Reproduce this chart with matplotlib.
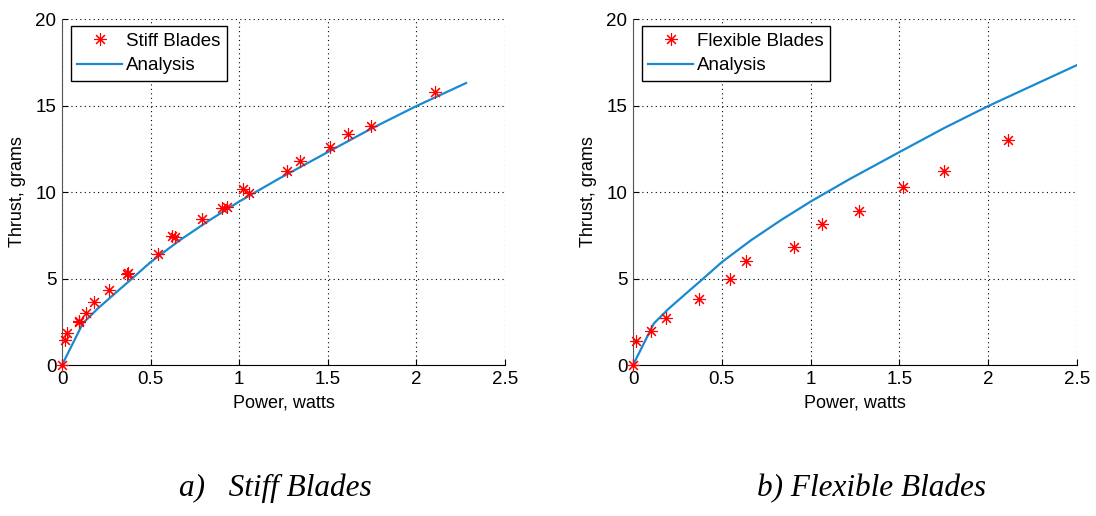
import matplotlib
matplotlib.use('Agg')
import matplotlib.pyplot as plt

# measured points, stiff blades (power in watts, thrust in grams)
stiff_power = [0.0, 0.015, 0.026, 0.094, 0.098, 0.135, 0.182, 0.263, 0.367, 0.37,
               0.54, 0.618, 0.637, 0.79, 0.904, 0.929, 1.023, 1.056, 1.267, 1.342,
               1.511, 1.611, 1.742, 2.103]
stiff_thrust = [0.0, 1.46, 1.85, 2.46, 2.52, 3.0, 3.62, 4.31, 5.27, 5.31,
                6.43, 7.47, 7.39, 8.43, 9.07, 9.16, 10.16, 9.97, 11.22, 11.82,
                12.59, 13.34, 13.82, 15.80]

# measured points, flexible blades
flex_power = [0.0, 0.019, 0.101, 0.188, 0.37, 0.544, 0.638, 0.907, 1.062, 1.27,
              1.52, 1.75, 2.109]
flex_thrust = [0.0, 1.37, 1.98, 2.71, 3.83, 4.99, 6.03, 6.83, 8.18, 8.89,
               10.29, 11.19, 13.02]

# analysis curve
ana_power = [0.0, 0.117, 0.2, 0.3, 0.39, 0.5, 0.664, 0.832, 1.0, 1.22, 1.5,
             1.75, 2.0, 2.28, 2.5]
ana_thrust = [0.0, 2.40, 3.25, 4.15, 4.95, 5.95, 7.21, 8.37, 9.45, 10.75, 12.31,
              13.69, 14.97, 16.3, 17.34]

captions = ['a)   Stiff Blades', 'b) Flexible Blades']

blue = '#1a8ad0'
star = (8, 2, 0)

fig = plt.figure(figsize=(10.96, 5.16), dpi=100)
plt.rcParams['font.family'] = ['Liberation Sans', 'DejaVu Sans']

ax1 = fig.add_axes([0.0566, 0.2926, 0.4042, 0.6705])
ax2 = fig.add_axes([0.5776, 0.2926, 0.4051, 0.6705])

ax1.plot(stiff_power, stiff_thrust, linestyle='none', marker=star, ms=9, mew=0.8,
         color='red', label='Stiff Blades', clip_on=False, zorder=3)
n = ana_power.index(2.28) + 1
ax1.plot(ana_power[:n], ana_thrust[:n], color=blue, lw=1.6, label='Analysis', zorder=2)

ax2.plot(flex_power, flex_thrust, linestyle='none', marker=star, ms=9, mew=0.8,
         color='red', label='Flexible Blades', clip_on=False, zorder=3)
ax2.plot(ana_power, ana_thrust, color=blue, lw=1.6, label='Analysis', zorder=2)

for ax in (ax1, ax2):
    ax.set_xlim(0, 2.5)
    ax.set_ylim(0, 20)
    ax.set_xticks([0, 0.5, 1, 1.5, 2, 2.5])
    ax.set_xticklabels(['0', '0.5', '1', '1.5', '2', '2.5'])
    ax.set_yticks([0, 5, 10, 15, 20])
    ax.grid(True, linestyle=(0, (1, 3)), color='black', lw=0.8)
    ax.spines['top'].set_visible(False)
    ax.spines['right'].set_visible(False)
    ax.spines['left'].set_color('#555555')
    ax.spines['bottom'].set_color('black')
    ax.tick_params(direction='in', length=4, labelsize=13.5, pad=4)
    ax.set_xlabel('Power, watts', fontsize=13, labelpad=5)
    ax.set_ylabel('Thrust, grams', fontsize=13, labelpad=7)
    leg = ax.legend(loc='upper left', bbox_to_anchor=(0.02, 0.98), fontsize=13.5,
                    fancybox=False, edgecolor='black', framealpha=1,
                    handlelength=2.4, handletextpad=0.2, labelspacing=0.4,
                    borderpad=0.35, borderaxespad=0)
    leg.get_frame().set_linewidth(1.0)

fig.text(0.251, 0.038, captions[0], family='Liberation Serif', style='italic',
         fontsize=22.5, ha='center', va='baseline')
fig.text(0.795, 0.038, captions[1], family='Liberation Serif', style='italic',
         fontsize=22.5, ha='center', va='baseline')

fig.savefig('out.png', dpi=100)
